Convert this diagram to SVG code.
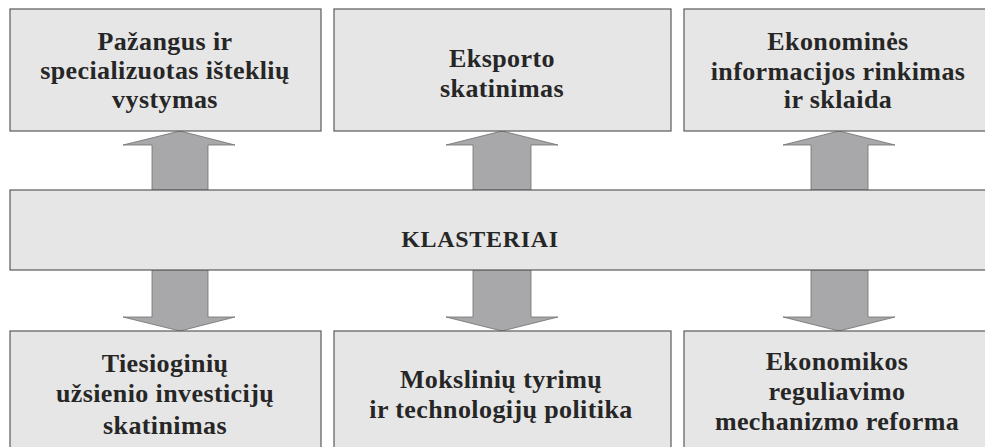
<svg xmlns="http://www.w3.org/2000/svg" width="985" height="447" viewBox="0 0 985 447">
<style>
.box{fill:#e6e6e6;stroke:#5a5a5a;stroke-width:1.2}
.arr{fill:#a8a8aa;stroke:#6e6e6e;stroke-width:0.8}
.t{font-family:"Liberation Serif","Times New Roman",serif;font-weight:bold;font-size:26px;fill:#262626;text-anchor:middle;letter-spacing:0.4px}
.k{font-size:24px;letter-spacing:0.7px}
</style>
<rect width="985" height="447" fill="#ffffff"/>
<g id="connectors">
<polygon class="arr" points="152,190 152,145 123,145 180,131 235,145 208,145 208,190"/>
<polygon class="arr" points="473,190 473,145 446,145 502,131 558,145 531,145 531,190"/>
<polygon class="arr" points="811,190 811,145 783,145 839,131 895,145 868,145 868,190"/>
<polygon class="arr" points="152,270 152,317 123,317 180,331 235,317 208,317 208,270"/>
<polygon class="arr" points="473,270 473,317 446,317 502,331 558,317 531,317 531,270"/>
<polygon class="arr" points="811,270 811,317 783,317 839,331 895,317 868,317 868,270"/>
</g>
<g id="n_top1">
<rect class="box" x="10" y="9" width="311" height="122"/>
<text class="t" x="165" y="50">Pažangus ir</text>
<text class="t" x="165" y="79">specializuotas išteklių</text>
<text class="t" x="165" y="108">vystymas</text>
</g>
<g id="n_top2">
<rect class="box" x="334" y="9" width="337" height="122"/>
<text class="t" x="502" y="67">Eksporto</text>
<text class="t" x="502" y="97">skatinimas</text>
</g>
<g id="n_top3">
<rect class="box" x="684" y="9" width="310" height="122"/>
<text class="t" x="838" y="50">Ekonominės</text>
<text class="t" x="838" y="80">informacijos rinkimas</text>
<text class="t" x="838" y="108">ir sklaida</text>
</g>
<g id="n_klasteriai">
<rect class="box" x="10" y="190" width="984" height="80"/>
<text class="t k" x="480" y="247">KLASTERIAI</text>
</g>
<g id="n_bot1">
<rect class="box" x="10" y="331" width="311" height="130"/>
<text class="t" x="165" y="372">Tiesioginių</text>
<text class="t" x="165" y="402">užsienio investicijų</text>
<text class="t" x="165" y="434">skatinimas</text>
</g>
<g id="n_bot2">
<rect class="box" x="334" y="331" width="337" height="130"/>
<text class="t" x="501" y="388">Mokslinių tyrimų</text>
<text class="t" x="501" y="418">ir technologijų politika</text>
</g>
<g id="n_bot3">
<rect class="box" x="684" y="331" width="310" height="130"/>
<text class="t" x="837" y="370">Ekonomikos</text>
<text class="t" x="837" y="400">reguliavimo</text>
<text class="t" x="837" y="430">mechanizmo reforma</text>
</g>
</svg>
